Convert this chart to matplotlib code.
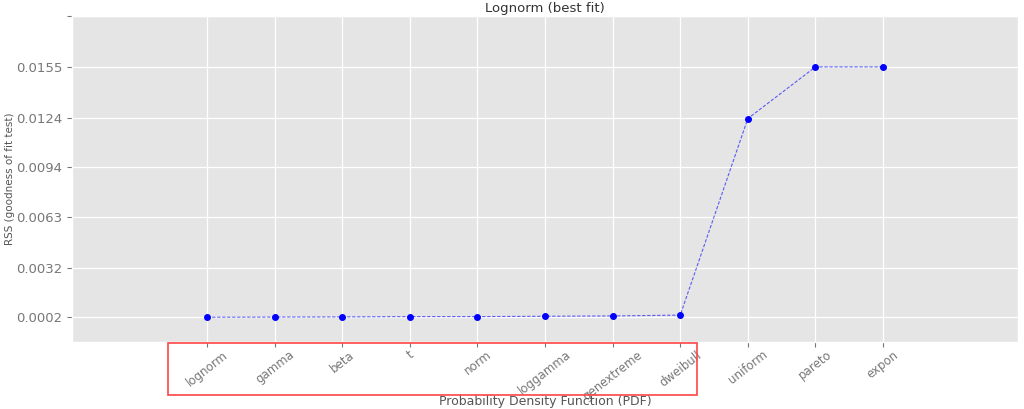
import numpy as np
import matplotlib
matplotlib.use('Agg')
import matplotlib.pyplot as plt
from matplotlib.patches import Rectangle

distributions = ['lognorm', 'gamma', 'beta', 't', 'norm', 'loggamma',
                 'genextreme', 'dweibull', 'uniform', 'pareto', 'expon']
rss = [0.00019, 0.00020, 0.00021, 0.00023, 0.00023, 0.00025,
       0.00027, 0.00032, 0.01235, 0.01551, 0.01551]
ytick_values = [0.0002, 0.0032, 0.0063, 0.0094, 0.0124, 0.0155, 0.0186]
ytick_labels = ['0.0002', '0.0032', '0.0063', '0.0094', '0.0124', '0.0155', '']

plt.style.use('ggplot')
fig = plt.figure(figsize=(10.24, 4.09), dpi=100)
ax = fig.add_axes([0.0703, 0.164, 0.924, 0.797])

x = np.arange(len(distributions))
ax.plot(x, rss, color='blue', linestyle=(0, (3, 1.5)), linewidth=0.8, alpha=0.6)
ax.plot(x, rss, 'o', color='blue', markersize=4)

ax.set_xlim(-2, 12)
ax.set_ylim(-0.00132, 0.01863)
ax.set_xticks(x)
ax.set_xticklabels(distributions, rotation=38, fontsize=8.5, color='#777777', ha='center')
ax.tick_params(axis='x', pad=1)
ax.set_yticks(ytick_values)
ax.set_yticklabels(ytick_labels, fontsize=9.5, color='#777777')
ax.tick_params(axis='both', colors='#777777', labelcolor='#777777')
ax.grid(True, color='white', linewidth=0.9)

ax.set_title('Lognorm (best fit)', fontsize=9.5, color='#333333', pad=3)
ax.set_xlabel('Probability Density Function (PDF)', fontsize=9, color='#555555', va='center')
ax.xaxis.set_label_coords(0.5, -0.183)
ax.set_ylabel('RSS (goodness of fit test)', fontsize=7.5, color='#555555', va='center',
              family=['Liberation Sans Narrow', 'DejaVu Sans'])
ax.yaxis.set_label_coords(-0.066, 0.5)

# red frame around the fitted distributions' labels
fig.patches.append(Rectangle((168 / 1024, 1 - 395 / 409), (697 - 168) / 1024, (395 - 343) / 409,
                             transform=fig.transFigure, fill=False,
                             edgecolor='#ff4444', linewidth=1.2))

fig.savefig('out.png', dpi=100)
